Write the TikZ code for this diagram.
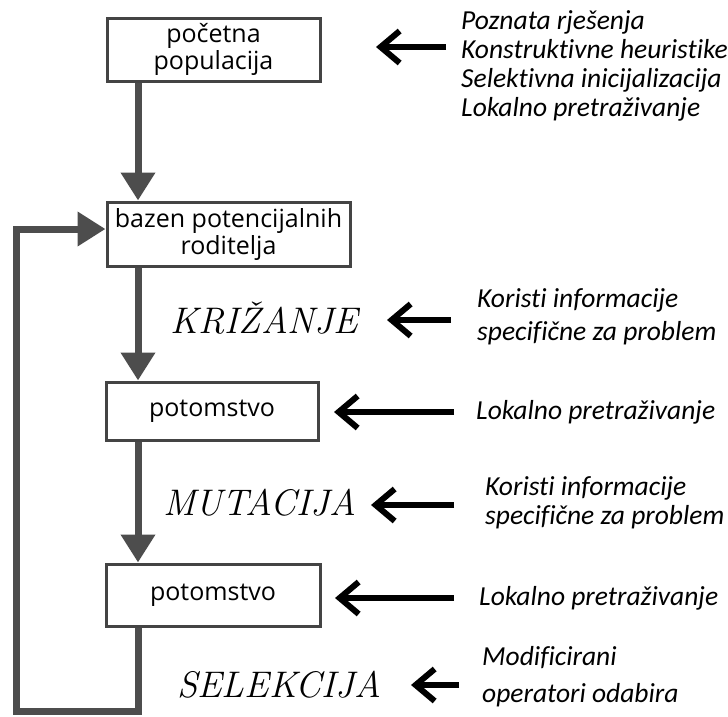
\documentclass[tikz,border=0pt]{standalone}
\usepackage{fontspec}
\setsansfont{Open Sans}
\newfontfamily\hintfont[Ligatures=NoCommon]{Carlito}
\usetikzlibrary{arrows.meta, positioning}

\definecolor{flowgray}{HTML}{4D4D4D}
\definecolor{boxgray}{HTML}{444444}

\begin{document}
\begin{tikzpicture}[
    x=1pt, y=-1pt,
    box/.style={rectangle, draw=boxgray, line width=3pt, fill=white, inner sep=0pt, align=center, font=\sffamily\fontsize{25}{27}\selectfont},
    flow/.style={-{Triangle[width=33pt, length=28pt]}, color=flowgray, line width=7pt},
    hint/.style={-{Straight Barb[length=19pt, width=32pt]}, line width=6pt},
    op/.style={font=\rmfamily\itshape\fontsize{37}{40}\selectfont, inner sep=0pt},
    txt/.style={anchor=west, inner sep=0pt, align=left, font=\hintfont\itshape\fontsize{27.5}{#1}\selectfont},
    txt/.default=29pt
]
\useasboundingbox (0,0) rectangle (728,716);

% Flow boxes
\node[box, minimum width=213pt, minimum height=63pt] (init) at (213.5,49.5) {početna\\populacija};
\node[box, minimum width=243pt, minimum height=64pt] (pool) at (228.5,234) {bazen potencijalnih\\roditelja};
\node[box, minimum width=212pt, minimum height=58pt] (child1) at (212,411) {potomstvo};
\node[box, minimum width=214pt, minimum height=62pt] (child2) at (213,595) {potomstvo};

\coordinate (spine) at (138,0);
\coordinate (fbcorner) at (16,711);

% Operators
\node[op] (cross) at (264.5,318) {KRIŽANJE};
\node[op] (mut) at (260,503) {MUTACIJA};
\node[op] (sel) at (279,685) {SELEKCIJA};

% Notes on the right
\node[txt] (n1) at (461,65.5) {Poznata rješenja\\Konstruktivne heuristike\\Selektivna inicijalizacija\\Lokalno pretraživanje};
\node[txt=33pt] (n2) at (477,316.5) {Koristi informacije\\specifične za problem};
\node[txt] (n3) at (476,412) {Lokalno pretraživanje};
\node[txt] (n4) at (485,502.5) {Koristi informacije\\specifične za problem};
\node[txt] (n5) at (479,598) {Lokalno pretraživanje};
\node[txt=37pt] (n6) at (482,676.5) {Modificirani\\operatori odabira};

% Main flow
\draw[flow] (init.south -| spine) -- (pool.north -| spine);
\draw[flow] (pool.south -| spine) -- (child1.north -| spine);
\draw[flow] (child1.south -| spine) -- (child2.north -| spine);
\draw[flow] (child2.south -| spine) |- (fbcorner) |- ([yshift=5pt]pool.west);

% Hint arrows
\coordinate (t1) at (446,47);   \coordinate (h1) at (376,47);
\coordinate (t2) at (451,320);  \coordinate (h2) at (387,320);
\coordinate (t3) at (454,412);  \coordinate (h3) at (334,412);
\coordinate (t4) at (454,505);  \coordinate (h4) at (371,505);
\coordinate (t5) at (454,598);  \coordinate (h5) at (335,598);
\coordinate (t6) at (459,685);  \coordinate (h6) at (411,685);
\draw[hint] (t1) -- (h1);
\draw[hint] (t2) -- (h2);
\draw[hint] (t3) -- (h3);
\draw[hint] (t4) -- (h4);
\draw[hint] (t5) -- (h5);
\draw[hint] (t6) -- (h6);

\end{tikzpicture}
\end{document}
